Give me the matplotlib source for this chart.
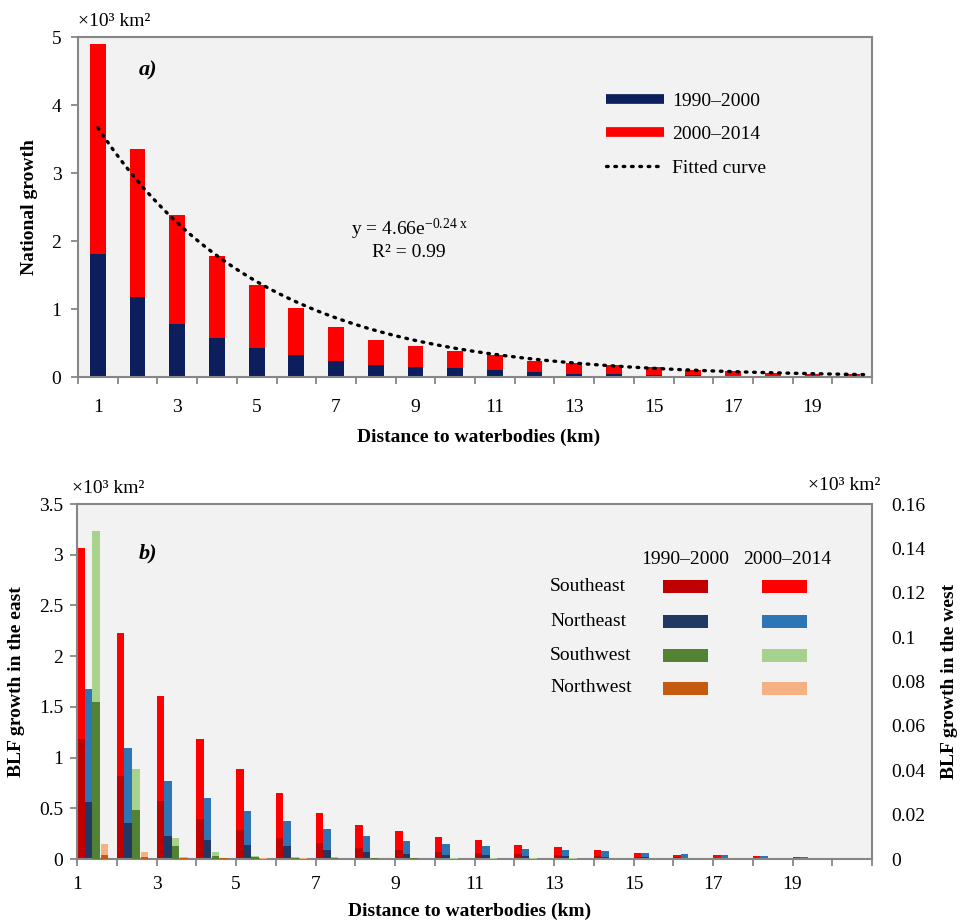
import numpy as np
import matplotlib
matplotlib.use('Agg')
import matplotlib.pyplot as plt
from matplotlib.lines import Line2D
from matplotlib.patches import Rectangle

plt.rcParams['font.family'] = ['Liberation Serif', 'DejaVu Serif']
plt.rcParams['mathtext.fontset'] = 'custom'
plt.rcParams['mathtext.rm'] = 'Liberation Serif'
plt.rcParams['mathtext.it'] = 'Liberation Serif:italic'
plt.rcParams['mathtext.bf'] = 'Liberation Serif:bold'

# ---------------- data ----------------
distance = np.arange(1, 21)
odd_labels = [str(d) for d in range(1, 20, 2)]

# Panel a: national growth (x10^3 km^2), stacked
nat_1990_2000 = [1.81, 1.18, 0.78, 0.57, 0.42, 0.32, 0.235, 0.18, 0.15, 0.13,
                 0.10, 0.07, 0.05, 0.04, 0.035, 0.03, 0.02, 0.015, 0.012, 0.01]
nat_2000_2014 = [3.09, 2.18, 1.60, 1.21, 0.94, 0.69, 0.505, 0.37, 0.31, 0.25,
                 0.22, 0.165, 0.15, 0.13, 0.105, 0.08, 0.065, 0.05, 0.038, 0.03]
fit_a = 4.66
fit_b = 0.24
fit_r2 = 0.99

# Panel b: regional BLF growth (x10^3 km^2), stacked
se_1990_2000 = [1.18, 0.82, 0.57, 0.39, 0.29, 0.21, 0.16, 0.11, 0.09, 0.07,
                0.06, 0.045, 0.04, 0.03, 0.02, 0.015, 0.013, 0.01, 0.006, 0.005]
se_2000_2014 = [1.89, 1.41, 1.04, 0.79, 0.60, 0.44, 0.29, 0.23, 0.186, 0.144,
                0.124, 0.093, 0.075, 0.056, 0.042, 0.025, 0.027, 0.02, 0.009, 0.007]
ne_1990_2000 = [0.56, 0.355, 0.23, 0.19, 0.14, 0.124, 0.09, 0.066, 0.05, 0.04,
                0.035, 0.025, 0.025, 0.02, 0.015, 0.012, 0.01, 0.008, 0.005, 0.004]
ne_2000_2014 = [1.12, 0.735, 0.535, 0.41, 0.336, 0.253, 0.21, 0.164, 0.13, 0.108,
                0.09, 0.07, 0.065, 0.056, 0.047, 0.041, 0.03, 0.022, 0.01, 0.008]
# west (right axis)
sw_1990_2000 = [0.0707, 0.0222, 0.0057, 0.0015, 0.0008, 0.0005, 0.0004, 0.0003, 0.0003, 0.0002,
                0.0002, 0.0002, 0.0001, 0.0001, 0.0001, 0.0001, 0.0001, 0.0001, 0.0001, 0.0001]
sw_2000_2014 = [0.077, 0.0184, 0.0038, 0.0015, 0.0007, 0.0005, 0.0004, 0.0003, 0.0003, 0.0002,
                0.0002, 0.0002, 0.0002, 0.0001, 0.0001, 0.0001, 0.0001, 0.0001, 0.0001, 0.0001]
nw_1990_2000 = [0.002, 0.001, 0.0005, 0.0003, 0.0002, 0.0002, 0.0001, 0.0001, 0.0001, 0.0001,
                0.0001, 0.0001, 0.0001, 0.0001, 0.0001, 0.0001, 0.0001, 0.0001, 0.0001, 0.0001]
nw_2000_2014 = [0.0049, 0.002, 0.0005, 0.0002, 0.0002, 0.0001, 0.0001, 0.0001, 0.0001, 0.0001,
                0.0001, 0.0001, 0.0001, 0.0001, 0.0001, 0.0001, 0.0001, 0.0001, 0.0001, 0.0001]

regions = ['Southeast', 'Northeast', 'Southwest', 'Northwest']
periods = ['1990\u20132000', '2000\u20132014']

# ---------------- styles ----------------
navy = '#0c1e5b'
red = '#ff0000'
dark_cols = ['#c00000', '#1f3864', '#548235', '#c55a11']
light_cols = ['#ff0000', '#2e75b6', '#a9d18e', '#f4b183']
bg = '#f2f2f2'
spine_c = '#868686'
FS = 14

W, H = 973, 922
fig = plt.figure(figsize=(W / 100, H / 100), dpi=100)


def style_axes(ax):
    ax.set_facecolor(bg)
    for s in ax.spines.values():
        s.set_color(spine_c)
        s.set_linewidth(1.5)


# ---------------- panel a ----------------
ax1 = fig.add_axes([78 / W, 1 - 377 / H, 794 / W, 340 / H])
style_axes(ax1)
nat_lo = np.array(nat_1990_2000)
nat_hi = np.array(nat_2000_2014)
ax1.bar(distance, nat_lo, width=0.4, color=navy, zorder=2)
ax1.bar(distance, nat_hi, width=0.4, bottom=nat_lo, color=red, zorder=2)
xf = np.linspace(1, 20.3, 200)
ax1.plot(xf, fit_a * np.exp(-fit_b * xf), color='black', lw=2.4,
         ls=(0, (0.5, 2.0)), dash_capstyle='round', zorder=3)
ax1.set_xlim(0.5, 20.5)
ax1.set_ylim(0, 5)
ax1.set_yticks(np.arange(0, 6, 1))
ax1.set_xticks(distance[::2])
ax1.set_xticklabels(odd_labels)
ax1.set_xticks(np.arange(0.5, 21, 1), minor=True)
ax1.tick_params(axis='x', which='major', length=0, pad=16, labelsize=FS)
ax1.tick_params(axis='x', which='minor', length=5, width=1.3, color=spine_c, direction='out')
ax1.tick_params(axis='y', length=5, width=1.3, color=spine_c, pad=7, labelsize=FS)
ax1.set_xlabel('Distance to waterbodies (km)', fontsize=FS, fontweight='bold')
ax1.xaxis.set_label_coords(0.504, -0.153)
ax1.set_ylabel('National growth', fontsize=FS, fontweight='bold')
ax1.yaxis.set_label_coords(-0.050, 0.5)

handles = [Line2D([], [], color=navy, lw=7, solid_capstyle='butt'),
           Line2D([], [], color=red, lw=7, solid_capstyle='butt'),
           Line2D([], [], color='black', lw=2.4, ls=(0, (0.5, 2.0)), dash_capstyle='round')]
ax1.legend(handles, periods + ['Fitted curve'], loc='upper left',
           bbox_to_anchor=(606 / W, 1 - 92 / H), bbox_transform=fig.transFigure,
           frameon=False, fontsize=FS, handlelength=3.0, handletextpad=0.4,
           labelspacing=0.82, borderpad=0, borderaxespad=0)

fig.text(78 / W, 1 - 21 / H, '\u00d710\u00b3 km\u00b2', fontsize=FS, va='center', ha='left')
fig.text(148 / W, 1 - 70 / H, 'a)', fontsize=16, fontweight='bold', fontstyle='italic',
         ha='center', va='center')
fig.text(409 / W, 1 - 229 / H, 'y = %.2fe$^{\\mathregular{-%.2f\\ x}}$' % (fit_a, fit_b),
         fontsize=FS, ha='center', va='center')
fig.text(409 / W, 1 - 252 / H, 'R\u00b2 = %.2f' % fit_r2, fontsize=FS, ha='center', va='center')

# ---------------- panel b ----------------
ax2 = fig.add_axes([77 / W, 1 - 859 / H, 795 / W, 355 / H])
style_axes(ax2)
ax3 = ax2.twinx()
for s in ax3.spines.values():
    s.set_visible(False)

bw = 0.19
offsets = [0.0, 0.19, 0.385, 0.60]
east = [(se_1990_2000, se_2000_2014), (ne_1990_2000, ne_2000_2014)]
west = [(sw_1990_2000, sw_2000_2014), (nw_1990_2000, nw_2000_2014)]
for i, (lo, hi) in enumerate(east):
    lo = np.array(lo); hi = np.array(hi)
    ax2.bar(distance + offsets[i], lo, width=bw, align='edge', color=dark_cols[i], zorder=2)
    ax2.bar(distance + offsets[i], hi, width=bw, bottom=lo, align='edge', color=light_cols[i], zorder=2)
for j, (lo, hi) in enumerate(west):
    i = j + 2
    lo = np.array(lo); hi = np.array(hi)
    ax3.bar(distance + offsets[i], lo, width=bw, align='edge', color=dark_cols[i], zorder=2)
    ax3.bar(distance + offsets[i], hi, width=bw, bottom=lo, align='edge', color=light_cols[i], zorder=2)

ax2.set_xlim(1, 21)
ax2.set_ylim(0, 3.5)
ax3.set_ylim(0, 0.16)
ax2.set_yticks(np.arange(0, 3.51, 0.5))
ax2.set_yticklabels(['0', '0.5', '1', '1.5', '2', '2.5', '3', '3.5'])
ax3.set_yticks(np.arange(0, 0.161, 0.02))
ax3.set_yticklabels(['0', '0.02', '0.04', '0.06', '0.08', '0.1', '0.12', '0.14', '0.16'])
ax2.set_xticks(np.arange(1, 22))
ax2.set_xticklabels([str(d) if (d % 2 == 1 and d <= 19) else '' for d in range(1, 22)])
ax2.tick_params(axis='x', length=5, width=1.3, color=spine_c, pad=7, labelsize=FS)
ax2.tick_params(axis='y', length=5, width=1.3, color=spine_c, pad=5, labelsize=FS)
ax3.tick_params(axis='y', length=0, pad=14, labelsize=FS)
ax2.set_xlabel('Distance to waterbodies (km)', fontsize=FS, fontweight='bold')
ax2.xaxis.set_label_coords(0.494, -0.122)
ax2.set_ylabel('BLF growth in the east', fontsize=FS, fontweight='bold')
ax2.yaxis.set_label_coords(-0.066, 0.5)
ax3.set_ylabel('BLF growth in the west', fontsize=FS, fontweight='bold', rotation=90)
ax3.yaxis.set_label_coords(1.087, 0.5)

fig.text(72 / W, 1 - 488 / H, '\u00d710\u00b3 km\u00b2', fontsize=FS, va='center', ha='left')
fig.text(880 / W, 1 - 485 / H, '\u00d710\u00b3 km\u00b2', fontsize=FS, va='center', ha='right')
fig.text(148 / W, 1 - 553 / H, 'b)', fontsize=16, fontweight='bold', fontstyle='italic',
         ha='center', va='center')

# custom legend table for panel b
fig.text(685 / W, 1 - 559 / H, periods[0], fontsize=FS, ha='center', va='center')
fig.text(787 / W, 1 - 559 / H, periods[1], fontsize=FS, ha='center', va='center')
row_y = [586, 621, 655, 688]
for k, name in enumerate(regions):
    fig.text(550 / W, 1 - row_y[k] / H, name, fontsize=FS, ha='left', va='center')
    for cx, col in ((663, dark_cols[k]), (762, light_cols[k])):
        fig.patches.append(Rectangle((cx / W, 1 - (row_y[k] + 6.5) / H), 45 / W, 13 / H,
                                     transform=fig.transFigure, facecolor=col,
                                     edgecolor='none', figure=fig))

fig.savefig('out.png', dpi=100, facecolor='white')
